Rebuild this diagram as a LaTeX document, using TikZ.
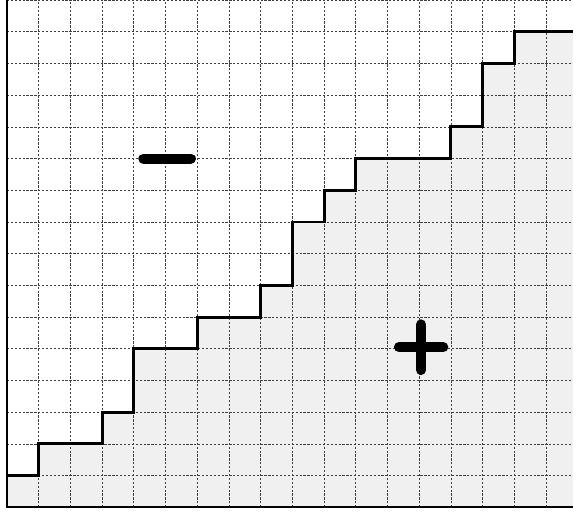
\documentclass[tikz,border=0pt]{standalone}
\begin{document}
\begin{tikzpicture}[x=1cm,y=1cm,
  gridline/.style={black!75,line width=0.6pt,dash pattern=on 2pt off 1.5pt},
  stair/.style={black,line width=2.6pt,line join=miter},
  axisline/.style={black,line width=1.8pt},
  signstroke/.style={black,line width=9pt,line cap=round}]
\useasboundingbox (-0.22,-0.22) rectangle (17.85,16.0);
\fill[black!6] (0,0) -- (0,1) -- (1,1) -- (1,2) -- (3,2) -- (3,3) -- (4,3) -- (4,5) -- (6,5) -- (6,6) -- (8,6) -- (8,7) -- (9,7) -- (9,9) -- (10,9) -- (10,10) -- (11,10) -- (11,11) -- (14,11) -- (14,12) -- (15,12) -- (15,14) -- (16,14) -- (16,15) -- (17.9,15) -- (17.9,0) -- cycle;
\foreach \i in {1,...,17} \draw[gridline] (\i,0) -- (\i,16.1);
\foreach \j in {1,...,16} \draw[gridline] (0,\j) -- (17.9,\j);
\draw[stair] (0,1) -- (1,1) -- (1,2) -- (3,2) -- (3,3) -- (4,3) -- (4,5) -- (6,5) -- (6,6) -- (8,6) -- (8,7) -- (9,7) -- (9,9) -- (10,9) -- (10,10) -- (11,10) -- (11,11) -- (14,11) -- (14,12) -- (15,12) -- (15,14) -- (16,14) -- (16,15) -- (17.9,15);
\draw[axisline] (0,16.1) -- (0,0) -- (17.9,0);
\draw[signstroke] (4.3,11) -- (5.8,11);
\draw[signstroke] (12.36,5.05) -- (13.76,5.05);
\draw[signstroke] (13.06,4.33) -- (13.06,5.77);
\end{tikzpicture}
\end{document}
